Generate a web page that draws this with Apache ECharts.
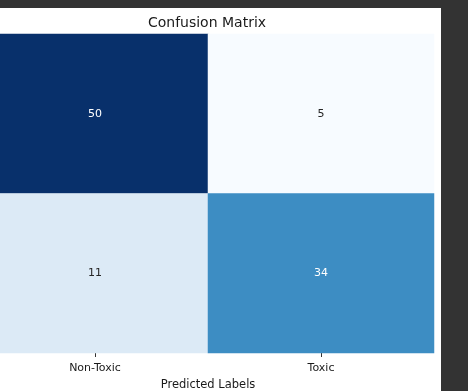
<!DOCTYPE html>
<html>
<head>
<meta charset="utf-8">
<script src="https://cdn.jsdelivr.net/npm/echarts@6/dist/echarts.min.js"></script>
<style>
html,body{margin:0;padding:0;background:#333333;width:468px;height:391px;overflow:hidden;}
#chart{position:absolute;left:-18px;top:8px;width:459px;height:383px;background:#ffffff;}
</style>
</head>
<body>
<div id="chart"></div>
<script>
const predictedLabels = ['Non-Toxic', 'Toxic'];
const actualLabels = ['Non-Toxic', 'Toxic'];
const row0 = [50, 5];
const row1 = [11, 34];
const matrix = [row0, row1];

const data = [];
matrix.forEach((row, i) => row.forEach((v, j) => data.push({
  value: [j, i, v],
  label: {color: v > 27.5 ? '#ffffff' : '#262626'}
})));

const chart = echarts.init(document.getElementById('chart'), null, {renderer: 'canvas'});
chart.setOption({
  animation: false,
  graphic: [{
    type: 'text', x: 225, y: 15,
    style: {text: 'Confusion Matrix', fontFamily: 'DejaVu Sans', fontSize: 14, fill: '#1a1a1a',
            textAlign: 'center', textVerticalAlign: 'middle'}
  }],
  grid: {left: 0, top: 26, width: 452, height: 319, outerBoundsMode: 'none', containLabel: false},
  xAxis: {
    type: 'category', data: predictedLabels, position: 'bottom',
    name: 'Predicted Labels', nameLocation: 'middle', nameGap: 30,
    nameTextStyle: {fontFamily: 'DejaVu Sans', fontSize: 11.5, color: '#1a1a1a', verticalAlign: 'middle'},
    axisLine: {show: false},
    axisTick: {show: true, alignWithLabel: true, length: 4, lineStyle: {color: '#333'}},
    axisLabel: {fontFamily: 'DejaVu Sans', fontSize: 11, color: '#1a1a1a', margin: 10},
    splitArea: {show: false}
  },
  yAxis: {
    type: 'category', data: actualLabels, inverse: true,
    axisLine: {show: false}, axisTick: {show: false}, axisLabel: {show: false}
  },
  visualMap: {
    show: false, min: 5, max: 50, dimension: 2,
    inRange: {color: ['#f7fbff','#deebf7','#c6dbef','#9ecae1','#6baed6','#4292c6','#2171b5','#08519c','#08306b']}
  },
  series: [{
    type: 'heatmap', data: data,
    label: {
      show: true, fontFamily: 'DejaVu Sans', fontSize: 11,
      formatter: p => p.value[2]
    },
    itemStyle: {borderWidth: 0}
  }]
});
</script>
</body>
</html>
